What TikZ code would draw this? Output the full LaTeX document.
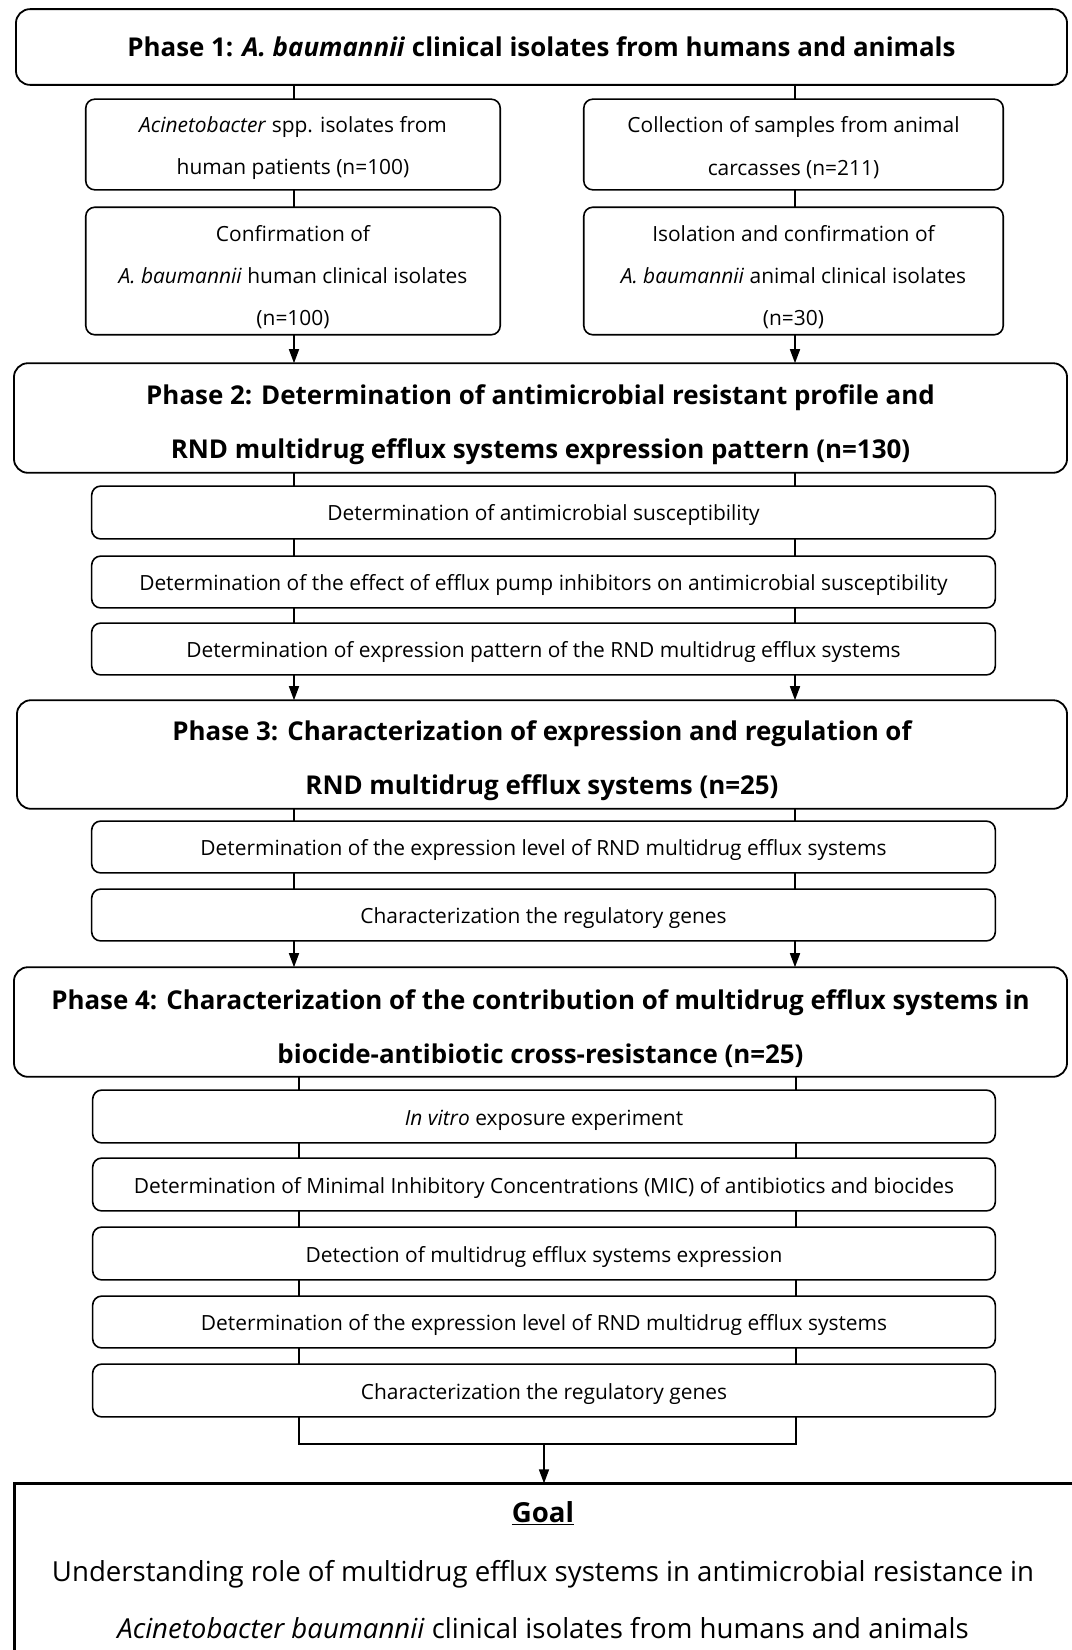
\documentclass[tikz,border=0pt]{standalone}
\usepackage{fontspec}
\setmainfont{Open Sans}
\usetikzlibrary{arrows.meta}
\newcommand\hstrut[1]{\rule{0pt}{#1}}
\begin{document}
\begin{tikzpicture}[x=1bp,y=-1bp,
  every node/.style={inner sep=0pt, outer sep=0pt},
  phase/.style={draw, line width=1.8bp, rounded corners=14bp, align=center,
    font=\fontsize{26}{54}\selectfont\bfseries},
  sub/.style={draw, line width=1.6bp, rounded corners=9bp, align=center,
    font=\fontsize{21}{43}\selectfont, execute at begin node={\hstrut{22bp}}},
  subthree/.style={sub, font=\fontsize{21}{42.5}\selectfont},
  conn/.style={line width=1.6bp},
  arr/.style={line width=1.6bp, -{Triangle[width=10bp,length=14bp]}},
  goalbox/.style={draw, line width=3bp},
  goaltext/.style={align=center, font=\fontsize{27.7}{57}\selectfont},
]
\useasboundingbox (0,0) rectangle (1071,1650);
\coordinate (xl) at (294,0);
\coordinate (xr) at (795,0);
\coordinate (xlf) at (299,0);
\coordinate (xrf) at (796,0);

% Phase 1
\node[phase, minimum width=1055, minimum height=76] (p1) at (541.5,47)
  {Phase 1: \textit{A. baumannii} clinical isolates from humans and animals};
\node[sub, minimum width=416, minimum height=91] (a1) at (293,144.5)
  {\hstrut{23bp}\textit{Acinetobacter} spp. isolates from\\human patients (n=100)};
\node[sub, minimum width=421, minimum height=91] (b1) at (793.5,144.5)
  {\hstrut{23bp}Collection of samples from animal\\carcasses (n=211)};
\node[subthree, minimum width=416, minimum height=128] (a2) at (293,271)
  {\hstrut{28bp}Confirmation of\\\textit{A. baumannii} human clinical isolates\\(n=100)};
\node[subthree, minimum width=421, minimum height=128] (b2) at (793.5,271)
  {\hstrut{28bp}Isolation and confirmation of\\\textit{A. baumannii} animal clinical isolates\\(n=30)};

% Phase 2
\node[phase, minimum width=1057, minimum height=110] (p2) at (540.5,418)
  {\hstrut{33bp}Phase 2: Determination of antimicrobial resistant profile and\\RND multidrug efflux systems expression pattern (n=130)};
\node[sub, minimum width=907, minimum height=53] (s21) at (543.5,512.5)
  {Determination of antimicrobial susceptibility};
\node[sub, minimum width=907, minimum height=52] (s22) at (543.5,582)
  {Determination of the effect of efflux pump inhibitors on antimicrobial susceptibility};
\node[sub, minimum width=907, minimum height=52] (s23) at (543.5,649)
  {Determination of expression pattern of the RND multidrug efflux systems};

% Phase 3
\node[phase, minimum width=1054, minimum height=109] (p3) at (542,754.5)
  {\hstrut{33bp}Phase 3: Characterization of expression and regulation of\\RND multidrug efflux systems (n=25)};
\node[sub, minimum width=907, minimum height=52] (s31) at (543.5,847)
  {Determination of the expression level of RND multidrug efflux systems};
\node[sub, minimum width=907, minimum height=52] (s32) at (543.5,915)
  {Characterization the regulatory genes};

% Phase 4
\node[phase, minimum width=1057, minimum height=110] (p4) at (540.5,1022)
  {\hstrut{33bp}Phase 4: Characterization of the contribution of multidrug efflux systems in\\biocide-antibiotic cross-resistance (n=25)};
\node[sub, minimum width=906, minimum height=53] (s41) at (544,1116.5)
  {\textit{In vitro} exposure experiment};
\node[sub, minimum width=906, minimum height=53] (s42) at (544,1184.5)
  {Determination of Minimal Inhibitory Concentrations (MIC) of antibiotics and biocides};
\node[sub, minimum width=906, minimum height=53] (s43) at (544,1253.5)
  {Detection of multidrug efflux systems expression};
\node[sub, minimum width=906, minimum height=52] (s44) at (544,1322)
  {Determination of the expression level of RND multidrug efflux systems};
\node[sub, minimum width=906, minimum height=53] (s45) at (544,1390.5)
  {Characterization the regulatory genes};

% Goal
\node[goalbox, minimum width=1078, minimum height=190] (goal) at (551,1578) {};
\node[goaltext, anchor=north] (goaltxt) at (543,1502)
  {\underline{\textbf{Goal}}\\[2bp]
   Understanding role of multidrug efflux systems in antimicrobial resistance in\\
   \textit{Acinetobacter baumannii} clinical isolates from humans and animals};

% connectors phase 1
\draw[conn] (p1.south -| xl) -- (a1.north -| xl);
\draw[conn] (p1.south -| xr) -- (b1.north -| xr);
\draw[conn] (a1.south -| xl) -- (a2.north -| xl);
\draw[conn] (b1.south -| xr) -- (b2.north -| xr);
\draw[arr] (a2.south -| xl) -- (p2.north -| xl);
\draw[arr] (b2.south -| xr) -- (p2.north -| xr);

% phase 2
\foreach \u/\v in {p2/s21, s21/s22, s22/s23} {
  \draw[conn] (\u.south -| xl) -- (\v.north -| xl);
  \draw[conn] (\u.south -| xr) -- (\v.north -| xr);
}
\draw[arr] (s23.south -| xl) -- (p3.north -| xl);
\draw[arr] (s23.south -| xr) -- (p3.north -| xr);

% phase 3
\foreach \u/\v in {p3/s31, s31/s32} {
  \draw[conn] (\u.south -| xl) -- (\v.north -| xl);
  \draw[conn] (\u.south -| xr) -- (\v.north -| xr);
}
\draw[arr] (s32.south -| xl) -- (p4.north -| xl);
\draw[arr] (s32.south -| xr) -- (p4.north -| xr);

% phase 4
\foreach \u/\v in {p4/s41, s41/s42, s42/s43, s43/s44, s44/s45} {
  \draw[conn] (\u.south -| xlf) -- (\v.north -| xlf);
  \draw[conn] (\u.south -| xrf) -- (\v.north -| xrf);
}
\coordinate (bk) at (544,1444);
\draw[conn] (s45.south -| xlf) -- (bk -| xlf) -- (bk -| xrf) -- (s45.south -| xrf);
\draw[arr] (bk) -- (goal.north -| bk);
\end{tikzpicture}
\end{document}
